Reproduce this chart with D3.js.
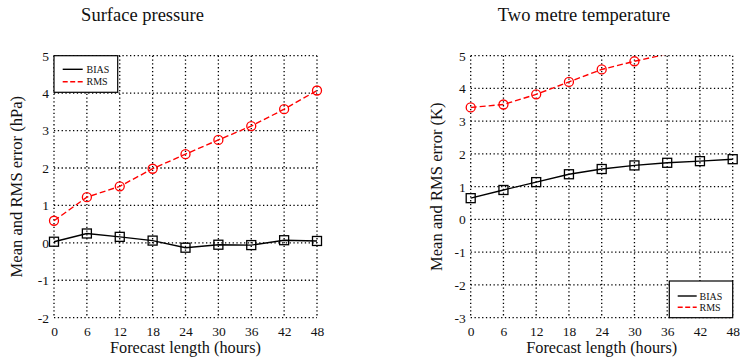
<!DOCTYPE html>
<html><head><meta charset="utf-8">
<script src="https://cdn.jsdelivr.net/npm/d3@7"></script>
<style>body{margin:0;background:#fff}svg{display:block}text{font-family:"Liberation Serif","Times New Roman",serif;fill:#111}</style>
</head><body><svg id="c" width="740" height="362"></svg>
<script>
const hours = [0, 6, 12, 18, 24, 30, 36, 42, 48];
const psBias = [0.03, 0.25, 0.16, 0.06, -0.13, -0.05, -0.06, 0.07, 0.05];
const psRms = [0.59, 1.22, 1.51, 1.98, 2.37, 2.75, 3.12, 3.57, 4.07];
const t2Bias = [0.65, 0.90, 1.14, 1.38, 1.54, 1.65, 1.73, 1.78, 1.84];
const t2Rms = [3.42, 3.51, 3.82, 4.20, 4.58, 4.83, 5.05, 5.25, 5.45];
const psTicks = [-2, -1, 0, 1, 2, 3, 4, 5];
const t2Ticks = [-3, -2, -1, 0, 1, 2, 3, 4, 5];
const legendLabels = ["BIAS", "RMS"];

const svg = d3.select("#c");

function panel(cfg) {
  const g = svg.append("g");
  const x = d3.scaleLinear().domain([0, 48]).range([cfg.x0, cfg.x1]);
  const y = d3.scaleLinear().domain([cfg.yTicks[0], cfg.yTicks[cfg.yTicks.length - 1]]).range([cfg.yb, cfg.yt]);
  const clipId = "clip" + cfg.id;
  svg.append("clipPath").attr("id", clipId).append("rect")
    .attr("x", cfg.x0 - 6).attr("y", cfg.yt).attr("width", cfg.x1 - cfg.x0 + 12).attr("height", cfg.yb - cfg.yt + 6);

  // grid
  g.selectAll(".vg").data(hours).join("line")
    .attr("x1", d => x(d)).attr("x2", d => x(d)).attr("y1", cfg.yt).attr("y2", cfg.yb)
    .attr("stroke", "#000").attr("stroke-width", 1.3).attr("stroke-dasharray", "1.3,2.5");
  g.selectAll(".hg").data(cfg.yTicks).join("line")
    .attr("x1", cfg.x0).attr("x2", cfg.x1).attr("y1", d => y(d)).attr("y2", d => y(d))
    .attr("stroke", "#000").attr("stroke-width", 1.3).attr("stroke-dasharray", "1.3,2.5");

  // axes
  const xa = g.append("g").attr("transform", `translate(0,${cfg.yb})`)
    .call(d3.axisBottom(x).tickValues(hours).tickSize(0).tickPadding(9));
  xa.select(".domain").remove();
  xa.selectAll("text").attr("font-size", 13.5).attr("font-family", "Liberation Serif").attr("fill", "#111");
  const ya = g.append("g").attr("transform", `translate(${cfg.x0},0)`)
    .call(d3.axisLeft(y).tickValues(cfg.yTicks).tickSize(0).tickPadding(5).tickFormat(d => String(d)));
  ya.select(".domain").remove();
  ya.selectAll("text").attr("font-size", 13.5).attr("font-family", "Liberation Serif").attr("fill", "#111");

  // lines
  const lineGen = d3.line().x((d, i) => x(hours[i])).y(d => y(d));
  const dg = g.append("g").attr("clip-path", `url(#${clipId})`);
  dg.append("path").datum(cfg.bias).attr("d", lineGen).attr("fill", "none").attr("stroke", "#000").attr("stroke-width", 1.4);
  dg.append("path").datum(cfg.rms).attr("d", lineGen).attr("fill", "none").attr("stroke", "#ff0000").attr("stroke-width", 1.4).attr("stroke-dasharray", "6,3");
  dg.selectAll(".sq").data(cfg.bias).join("rect")
    .attr("x", (d, i) => x(hours[i]) - 4.5).attr("y", d => y(d) - 4.5).attr("width", 9).attr("height", 9)
    .attr("fill", "none").attr("stroke", "#000").attr("stroke-width", 1.3);
  const mg = g.append("g").attr("clip-path", `url(#${clipId}b)`);
  svg.append("clipPath").attr("id", clipId + "b").append("rect")
    .attr("x", cfg.x0 - 6).attr("y", cfg.yt - 6).attr("width", cfg.x1 - cfg.x0 + 12).attr("height", cfg.yb - cfg.yt + 12);
  mg.selectAll(".ci").data(cfg.rms.filter(v => v <= y.domain()[1] + 0.01)).join("circle")
    .attr("cx", (d, i) => x(hours[i])).attr("cy", d => y(d)).attr("r", 4.5)
    .attr("fill", "none").attr("stroke", "#ff0000").attr("stroke-width", 1.3);

  // titles
  g.append("text").attr("x", cfg.titleX).attr("y", 21).attr("text-anchor", "middle").attr("font-size", 18.5).text(cfg.title);
  g.append("text").attr("x", (cfg.x0 + cfg.x1) / 2).attr("y", 353).attr("text-anchor", "middle").attr("font-size", 16.3).text("Forecast length (hours)");
  g.append("text").attr("transform", `translate(${cfg.ylabX},${(cfg.yt + cfg.yb) / 2}) rotate(-90)`)
    .attr("text-anchor", "middle").attr("font-size", 16.6).text(cfg.ylab);

  // legend
  const L = cfg.leg;
  const lg = g.append("g");
  lg.append("rect").attr("x", L.x).attr("y", L.y).attr("width", L.w).attr("height", L.h)
    .attr("fill", "#fff").attr("stroke", "#000").attr("stroke-width", 1.2);
  const styles = [{c: "#000", d: null}, {c: "#ff0000", d: "5,2.5"}];
  legendLabels.forEach((lab, i) => {
    const yy = L.y + L.r0 + i * L.dr;
    lg.append("line").attr("x1", L.lx0).attr("x2", L.lx1).attr("y1", yy).attr("y2", yy)
      .attr("stroke", styles[i].c).attr("stroke-width", 1.4).attr("stroke-dasharray", styles[i].d);
    lg.append("text").attr("x", L.tx).attr("y", yy + 3.5).attr("font-size", 10).text(lab);
  });
}

panel({id: 1, x0: 54, x1: 317, yt: 55.7, yb: 317.7, yTicks: psTicks, bias: psBias, rms: psRms,
  title: "Surface pressure", titleX: 142.5, ylab: "Mean and RMS error (hPa)", ylabX: 22,
  leg: {x: 54, y: 55.7, w: 63.7, h: 36.6, r0: 13.6, dr: 12.4, lx0: 62.7, lx1: 82.7, tx: 86.5}});
panel({id: 2, x0: 470.7, x1: 732.7, yt: 55.7, yb: 317.7, yTicks: t2Ticks, bias: t2Bias, rms: t2Rms,
  title: "Two metre temperature", titleX: 584, ylab: "Mean and RMS error (K)", ylabX: 442,
  leg: {x: 669.3, y: 281, w: 63.4, h: 36.7, r0: 15, dr: 11.3, lx0: 677.7, lx1: 696.7, tx: 699.5}});
</script></body></html>
